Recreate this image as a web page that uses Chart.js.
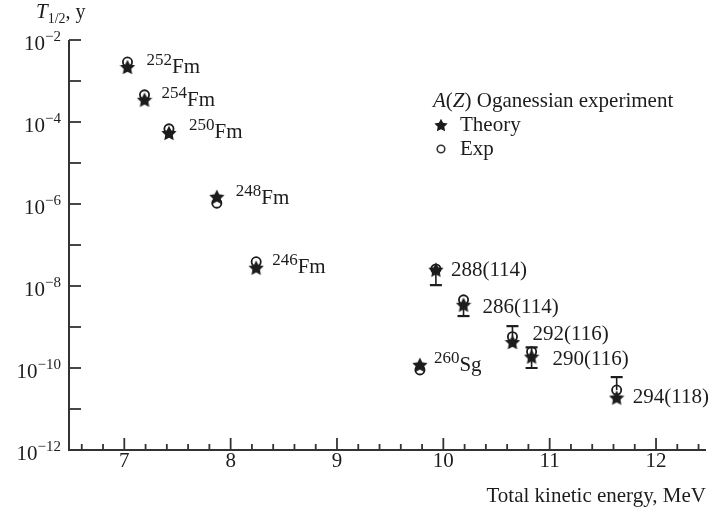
<!DOCTYPE html>
<html>
<head>
<meta charset="utf-8">
<script src="https://cdn.jsdelivr.net/npm/chart.js@4.4.1/dist/chart.umd.min.js"></script>
<style>
  html, body { margin: 0; padding: 0; background: #fff; }
  #wrap { width: 715px; height: 512px; position: relative; }
</style>
</head>
<body>
<div id="wrap"><canvas id="chart"></canvas></div>
<script>
// ---------------------------------------------------------------------------
// Data
// ---------------------------------------------------------------------------

const labelSup  = ["252", "254", "250", "248", "246", "", "", "", "", "260", ""];
const labelMain = ["Fm", "Fm", "Fm", "Fm", "Fm", "288(114)", "286(114)", "292(116)", "290(116)", "Sg", "294(118)"];

const energy   = [7.03, 7.19, 7.42, 7.87, 8.24, 9.93, 10.19, 10.65, 10.83, 9.78, 11.63];
const theoryT  = [2.2e-3, 3.5e-4, 5.4e-5, 1.5e-6, 2.8e-8, 2.5e-8, 3.5e-9, 4.3e-10, 1.9e-10, 1.2e-10, 1.9e-11];
const expT     = [2.9e-3, 4.6e-4, 6.8e-5, 1.05e-6, 3.9e-8, 2.6e-8, 4.6e-9, 5.8e-10, 2.5e-10, 9e-11, 2.9e-11];
const expLow   = [null, null, null, null, null, 1.05e-8, 1.85e-9, null, 1.0e-10, null, null];
const expHigh  = [null, null, null, null, null, null, null, 1.05e-9, 3.2e-10, null, 6.0e-11];

const xMajorTicks = [7, 8, 9, 10, 11, 12];
const yMajorExp   = [-12, -10, -8, -6, -4, -2];

// label placement relative to the theory star, [dx, dy] in px
const labelNudge = [[19, 6], [17, 6], [20, 5], [19, 7], [16, 5], [15, 6], [19, 8], [20, -2], [21, 8], [14, 6], [16, 5]];

// ---------------------------------------------------------------------------
// Marker images
// ---------------------------------------------------------------------------

const INK = "#1c1c1c";
const FONT = "'Liberation Serif', 'Times New Roman', serif";

function makeStar(size) {
    const c = document.createElement("canvas");
    c.width = size; c.height = size;
    const g = c.getContext("2d");
    const cx = size / 2, cy = size / 2 + size * 0.05;
    const ro = size / 2, ri = ro * 0.5;
    g.beginPath();
    for (let i = 0; i < 10; i++) {
        const r = i % 2 === 0 ? ro : ri;
        const a = -Math.PI / 2 + i * Math.PI / 5;
        g.lineTo(cx + r * Math.cos(a), cy + r * Math.sin(a));
    }
    g.closePath();
    g.fillStyle = INK;
    g.fill();
    return c;
}

const starImg = makeStar(16);
const starSmall = makeStar(14);

// ---------------------------------------------------------------------------
// Plugins: error bars, axes, annotations
// ---------------------------------------------------------------------------

const errorBars = {
    id: "errorBars",
    beforeDatasetsDraw(chart) {
        const { ctx, scales: { x, y } } = chart;
        ctx.save();
        ctx.strokeStyle = INK;
        energy.forEach((e, i) => {
            if (expLow[i] === null && expHigh[i] === null) return;
            const px = x.getPixelForValue(e);
            const lo = y.getPixelForValue(expLow[i] !== null ? expLow[i] : expT[i]);
            const hi = y.getPixelForValue(expHigh[i] !== null ? expHigh[i] : expT[i]);
            ctx.lineWidth = 1.6;
            ctx.beginPath();
            ctx.moveTo(px, lo); ctx.lineTo(px, hi);
            ctx.stroke();
            ctx.lineWidth = 2.2;
            ctx.beginPath();
            if (expLow[i] !== null) { ctx.moveTo(px - 6, lo); ctx.lineTo(px + 6, lo); }
            if (expHigh[i] !== null) { ctx.moveTo(px - 6, hi); ctx.lineTo(px + 6, hi); }
            ctx.stroke();
        });
        ctx.restore();
    },
};

const decorations = {
    id: "decorations",
    afterDraw(chart) {
        const { ctx, chartArea: a, scales: { x, y } } = chart;
        ctx.save();
        ctx.strokeStyle = "#333";
        ctx.fillStyle = INK;

        // axis lines
        ctx.lineWidth = 2;
        ctx.beginPath();
        ctx.moveTo(a.left, a.top); ctx.lineTo(a.left, a.bottom); ctx.lineTo(a.right, a.bottom);
        ctx.stroke();

        // y ticks (every decade, labels every second)
        ctx.lineWidth = 1.8;
        for (let p = -12; p <= -2; p++) {
            const py = y.getPixelForValue(Math.pow(10, p));
            ctx.beginPath(); ctx.moveTo(a.left, py); ctx.lineTo(a.left + 12, py); ctx.stroke();
        }
        yMajorExp.forEach((p) => {
            const py = y.getPixelForValue(Math.pow(10, p));
            ctx.textAlign = "right";
            ctx.textBaseline = "alphabetic";
            ctx.font = `15px ${FONT}`;
            const ex = "\u2212" + Math.abs(p);
            ctx.fillText(ex, 61, py + 1);
            const w = ctx.measureText(ex).width;
            ctx.font = `21px ${FONT}`;
            ctx.fillText("10", 61 - w, py + 10);
        });

        // x ticks (minor every 0.2)
        for (let k = 33; k <= 62; k++) {
            const v = k / 5;
            const px = x.getPixelForValue(v);
            const major = k % 5 === 0;
            ctx.beginPath(); ctx.moveTo(px, a.bottom); ctx.lineTo(px, a.bottom - (major ? 12 : 6)); ctx.stroke();
        }
        ctx.font = `21px ${FONT}`;
        ctx.textAlign = "center";
        xMajorTicks.forEach((v) => ctx.fillText(String(v), x.getPixelForValue(v), 467));

        // axis titles
        ctx.textAlign = "right";
        ctx.font = `21px ${FONT}`;
        ctx.fillText("Total kinetic energy, MeV", 706, 502);

        ctx.textAlign = "left";
        ctx.font = `italic 21px ${FONT}`;
        ctx.fillText("T", 36, 18);
        let tx = 36 + ctx.measureText("T").width;
        ctx.font = `14px ${FONT}`;
        ctx.fillText("1/2", tx, 23);
        tx += ctx.measureText("1/2").width;
        ctx.font = `20px ${FONT}`;
        ctx.fillText(", y", tx, 18);

        // point labels
        energy.forEach((e, i) => {
            const px = x.getPixelForValue(e);
            const py = y.getPixelForValue(theoryT[i]);
            let lx = px + labelNudge[i][0];
            const by = py + labelNudge[i][1];
            if (labelSup[i]) {
                ctx.font = `17px ${FONT}`;
                ctx.fillText(labelSup[i], lx, by - 8);
                lx += ctx.measureText(labelSup[i]).width;
            }
            ctx.font = `21px ${FONT}`;
            ctx.fillText(labelMain[i], lx, by);
        });

        // legend
        ctx.font = `italic 21px ${FONT}`;
        ctx.fillText("A", 433, 107);
        let lx = 433 + ctx.measureText("A").width;
        ctx.font = `21px ${FONT}`;
        ctx.fillText("(", lx, 107); lx += ctx.measureText("(").width;
        ctx.font = `italic 21px ${FONT}`;
        ctx.fillText("Z", lx, 107); lx += ctx.measureText("Z").width;
        ctx.font = `21px ${FONT}`;
        ctx.fillText(") Oganessian experiment", lx, 107);
        ctx.drawImage(starSmall, 441 - 7, 125 - 7);
        ctx.fillText("Theory", 460, 131);
        ctx.lineWidth = 1.6;
        ctx.beginPath(); ctx.arc(441, 149, 3.8, 0, Math.PI * 2); ctx.stroke();
        ctx.fillText("Exp", 460, 155);

        ctx.restore();
    },
};

// ---------------------------------------------------------------------------
// Chart
// ---------------------------------------------------------------------------

const ctx = document.getElementById("chart").getContext("2d");

new Chart(ctx, {
    type: "scatter",
    data: {
        datasets: [
            {
                label: "Theory",
                data: energy.map((e, i) => ({ x: e, y: theoryT[i] })),
                pointStyle: starImg,
                pointRadius: 8,
            },
            {
                label: "Exp",
                data: energy.map((e, i) => ({ x: e, y: expT[i] })),
                pointStyle: "circle",
                pointRadius: 4.6,
                borderWidth: 1.8,
                borderColor: INK,
                backgroundColor: "rgba(255,255,255,0)",
            },
        ],
    },
    options: {
        responsive: true,
        maintainAspectRatio: false,
        animation: false,
        layout: { padding: { left: 69, right: 3, top: 40, bottom: 62 } },
        plugins: { legend: { display: false }, tooltip: { enabled: false } },
        scales: {
            x: { type: "linear", min: 6.48, max: 12.47, display: false },
            y: { type: "logarithmic", min: 1e-12, max: 1e-2, display: false },
        },
    },
    plugins: [errorBars, decorations],
});
</script>
</body>
</html>
